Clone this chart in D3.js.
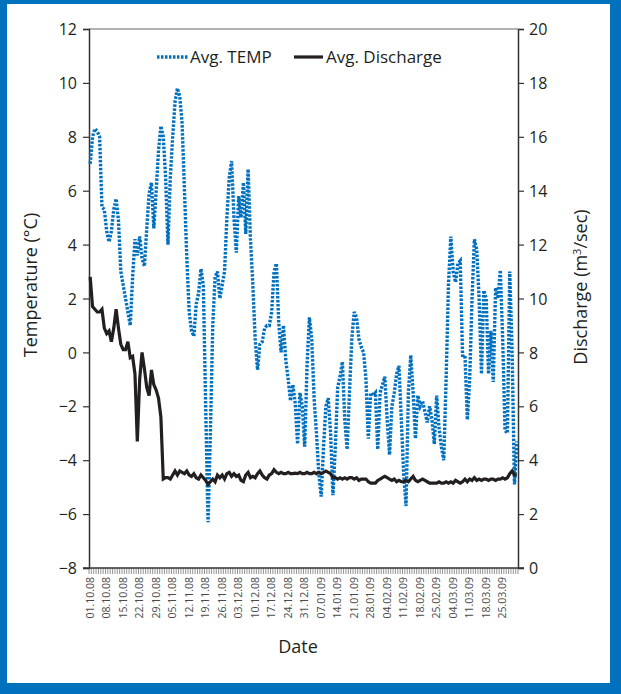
<!DOCTYPE html>
<meta charset="utf-8">
<style>
body { margin: 0; }
svg text { font-family: "Open Sans", "Noto Sans", sans-serif; fill: #231f20; }
.tick-x text { fill: #4a4a4a; }
</style>
<script src="https://cdn.jsdelivr.net/npm/d3@7"></script>
<body>
<svg id="chart" width="621" height="694"></svg>
<script>
// daily categories, 01.10.08 .. 31.03.09
var days = d3.timeDay.range(new Date(2008, 9, 1), new Date(2009, 3, 1));
var fmt = d3.timeFormat("%d.%m.%y");
var dateLabels = days.map(fmt);

var tickLabels = ["01.10.08", "08.10.08", "15.10.08", "22.10.08", "29.10.08", "05.11.08",
    "12.11.08", "19.11.08", "26.11.08", "03.12.08", "10.12.08", "17.12.08", "24.12.08",
    "31.12.08", "07.01.09", "14.01.09", "21.01.09", "28.01.09", "04.02.09", "11.02.09",
    "18.02.09", "25.02.09", "04.03.09", "11.03.09", "18.03.09", "25.03.09"];

var tempTicks = [-8, -6, -4, -2, 0, 2, 4, 6, 8, 10, 12];
var dischargeTicks = [0, 2, 4, 6, 8, 10, 12, 14, 16, 18, 20];

// average temperature (°C), one per day
var avgTemp = [
    7.0, 8.0, 8.3, 8.2, 8.0, 5.4, 5.3, 4.5, 4.1, 4.5,
    5.3, 5.7, 4.9, 3.0, 2.5, 2.0, 1.5, 1.0, 2.8, 4.2,
    3.6, 4.3, 3.5, 3.2, 4.6, 5.9, 6.3, 4.6, 6.0, 7.5,
    8.4, 8.0, 6.5, 4.0, 6.5, 8.0, 9.3, 9.8, 9.5, 8.5,
    6.0, 3.5, 1.5, 0.8, 0.6, 1.8, 2.2, 3.1, 2.5, -2.0,
    -6.3, -3.0, 1.0, 2.8, 3.0, 2.0, 2.5, 3.0, 5.0, 6.5,
    7.1, 5.0, 3.7, 5.8, 5.0, 6.3, 4.4, 6.8, 4.2, 2.5,
    0.5, -0.65, 0.3, 0.4, 0.9, 1.0, 1.0, 1.5, 3.0, 3.3,
    1.1, 0.0, 1.0, -0.3, -1.0, -1.8, -1.2, -1.9, -3.4, -1.5,
    -2.0, -3.5, -0.5, 1.3, 0.5, -1.7, -3.0, -4.5, -5.35, -3.5,
    -2.0, -1.7, -3.0, -5.3, -3.5, -1.3, -0.9, -0.35, -2.5, -3.6,
    -1.5, 0.5, 1.5, 1.3, 0.5, 0.2, 0.0, -1.0, -3.2, -1.5,
    -1.6, -1.5, -3.6, -1.5, -1.2, -0.9, -2.5, -3.8, -2.0, -1.5,
    -0.8, -0.5, -2.5, -4.5, -5.7, -1.5, -0.1, -1.5, -3.2, -1.6,
    -2.0, -1.8, -2.2, -2.6, -2.0, -2.5, -3.4, -1.6, -2.8, -3.5,
    -4.0, -1.0, 2.5, 4.3, 3.0, 2.6, 3.3, 3.4, -0.2, -0.1,
    -2.5, -1.0, 2.0, 4.2, 3.8, 2.0, -0.8, 2.3, 2.0, -0.8,
    0.8, -1.1, 2.4, 2.0, 3.05, 0.5, -2.9, -3.0, 3.0, 0.0,
    -4.9, -3.3
];

// average discharge (m3/sec), one per day
var avgDischarge = [
    10.8, 9.7, 9.6, 9.5, 9.5, 9.6, 8.9, 8.7, 8.8, 8.4,
    8.9, 9.6, 8.9, 8.3, 8.1, 8.1, 8.4, 7.8, 7.85, 7.2,
    4.7, 7.0, 8.0, 7.4, 6.7, 6.4, 7.35, 6.8, 6.6, 6.3,
    5.6, 3.3, 3.35, 3.35, 3.3, 3.45, 3.6, 3.45, 3.6, 3.55,
    3.5, 3.6, 3.45, 3.4, 3.5, 3.35, 3.3, 3.45, 3.35, 3.25,
    3.1, 3.2, 3.3, 3.2, 3.45, 3.35, 3.45, 3.3, 3.5, 3.55,
    3.4, 3.5, 3.4, 3.45, 3.25, 3.2, 3.45, 3.55, 3.35, 3.4,
    3.35, 3.5, 3.6, 3.45, 3.35, 3.3, 3.45, 3.5, 3.65, 3.55,
    3.5, 3.55, 3.5, 3.5, 3.55, 3.5, 3.5, 3.52, 3.5, 3.55,
    3.5, 3.5, 3.55, 3.5, 3.5, 3.55, 3.5, 3.55, 3.5, 3.55,
    3.6, 3.55, 3.5, 3.35, 3.35, 3.3, 3.35, 3.3, 3.35, 3.3,
    3.35, 3.35, 3.3, 3.35, 3.25, 3.3, 3.3, 3.3, 3.2, 3.15,
    3.15, 3.15, 3.25, 3.3, 3.35, 3.4, 3.35, 3.3, 3.25, 3.3,
    3.2, 3.25, 3.2, 3.2, 3.25, 3.2, 3.3, 3.4, 3.25, 3.2,
    3.25, 3.3, 3.25, 3.2, 3.15, 3.15, 3.15, 3.15, 3.2, 3.15,
    3.15, 3.2, 3.15, 3.2, 3.15, 3.25, 3.2, 3.15, 3.2, 3.3,
    3.2, 3.3, 3.25, 3.35, 3.25, 3.3, 3.25, 3.3, 3.3, 3.25,
    3.3, 3.3, 3.25, 3.3, 3.3, 3.35, 3.3, 3.35, 3.5, 3.6,
    3.45, 3.45
];

var svg = d3.select("#chart");
var W = 621, H = 694;
var m = { left: 89, right: 518, top: 29, bottom: 568 };

// frame
svg.append("rect").attr("width", W).attr("height", H).attr("fill", "#0071bc");
svg.append("rect").attr("x", 7).attr("y", 4).attr("width", 603).attr("height", 679).attr("fill", "#fff");

var x = d3.scaleBand().domain(dateLabels).range([m.left, m.right]).padding(0);
var yT = d3.scaleLinear().domain([-8, 12]).range([m.bottom, m.top]);
var yQ = d3.scaleLinear().domain([0, 20]).range([m.bottom, m.top]);

// top border of plot area
svg.append("line").attr("x1", m.left).attr("x2", m.right).attr("y1", m.top).attr("y2", m.top)
    .attr("stroke", "#999").attr("stroke-width", 1.5);

// left axis
var gl = svg.append("g").attr("transform", "translate(" + m.left + ",0)")
    .call(d3.axisLeft(yT).tickValues(tempTicks).tickSize(6).tickPadding(6).tickFormat(d3.format("d")));

// right axis
var gr = svg.append("g").attr("transform", "translate(" + m.right + ",0)")
    .call(d3.axisRight(yQ).tickValues(dischargeTicks).tickSize(6).tickPadding(5).tickFormat(d3.format("d")));

[gl, gr].forEach(function(g) {
    g.select(".domain").attr("stroke", "#333").attr("stroke-width", 1.5);
    g.selectAll(".tick line").attr("stroke", "#333").attr("stroke-width", 1.2);
    g.selectAll("text").attr("fill", "#231f20").attr("font-family", "'Open Sans', sans-serif")
        .style("font-size", "16px").attr("dy", "0.35em");
});

// x axis: a small tick between every day
var step = x.step();
var gx = svg.append("g").attr("class", "tick-x");
gx.selectAll("line.d").data(d3.range(dateLabels.length + 1)).join("line")
    .attr("class", "d")
    .attr("x1", function(i) { return m.left + i * step; })
    .attr("x2", function(i) { return m.left + i * step; })
    .attr("y1", m.bottom).attr("y2", m.bottom + 6)
    .attr("stroke", "#666").attr("stroke-width", 0.7);
gx.append("line").attr("x1", m.left - 6).attr("x2", m.right + 6)
    .attr("y1", m.bottom).attr("y2", m.bottom)
    .attr("stroke", "#333").attr("stroke-width", 1.5);
gx.selectAll("text").data(tickLabels).join("text")
    .attr("transform", function(d) {
        return "translate(" + (x(d) + step / 2) + "," + (m.bottom + 9) + ") rotate(-90)";
    })
    .attr("dy", "0.35em")
    .attr("text-anchor", "end")
    .style("font-size", "10.5px")
    .text(function(d) { return d; });

// lines
var tempLine = d3.line()
    .x(function(d, i) { return x(dateLabels[i]) + step / 2; })
    .y(function(d) { return yT(d); });
var qLine = d3.line()
    .x(function(d, i) { return x(dateLabels[i]) + step / 2; })
    .y(function(d) { return yQ(d); });

svg.append("path").datum(avgTemp).attr("d", tempLine)
    .attr("fill", "none").attr("stroke", "#0070c0").attr("stroke-width", 3.4)
    .attr("stroke-dasharray", "2.5,1.5");
svg.append("path").datum(avgDischarge).attr("d", qLine)
    .attr("fill", "none").attr("stroke", "#231f20").attr("stroke-width", 3.2)
    .attr("stroke-linejoin", "miter");

// legend
var lg = svg.append("g");
lg.append("line").attr("x1", 157).attr("x2", 188).attr("y1", 57).attr("y2", 57)
    .attr("stroke", "#0070c0").attr("stroke-width", 3.4).attr("stroke-dasharray", "2.5,1.5");
lg.append("text").attr("x", 190).attr("y", 57).attr("dy", "0.35em").style("font-size", "17px").text("Avg. TEMP");
lg.append("line").attr("x1", 294).attr("x2", 323).attr("y1", 57).attr("y2", 57)
    .attr("stroke", "#231f20").attr("stroke-width", 3.2);
lg.append("text").attr("x", 326).attr("y", 57).attr("dy", "0.35em").style("font-size", "17px").text("Avg. Discharge");

// axis titles
svg.append("text").attr("transform", "translate(37,285) rotate(-90)")
    .attr("text-anchor", "middle").style("font-size", "18px").text("Temperature (°C)");
var rt = svg.append("text").attr("transform", "translate(587,287) rotate(-90)")
    .attr("text-anchor", "middle").style("font-size", "18px");
rt.append("tspan").text("Discharge (m");
rt.append("tspan").attr("dy", "-6").style("font-size", "11px").text("3");
rt.append("tspan").attr("dy", "6").text("/sec)");
svg.append("text").attr("x", 298).attr("y", 653).attr("text-anchor", "middle")
    .style("font-size", "18px").text("Date");
</script>
</body>
